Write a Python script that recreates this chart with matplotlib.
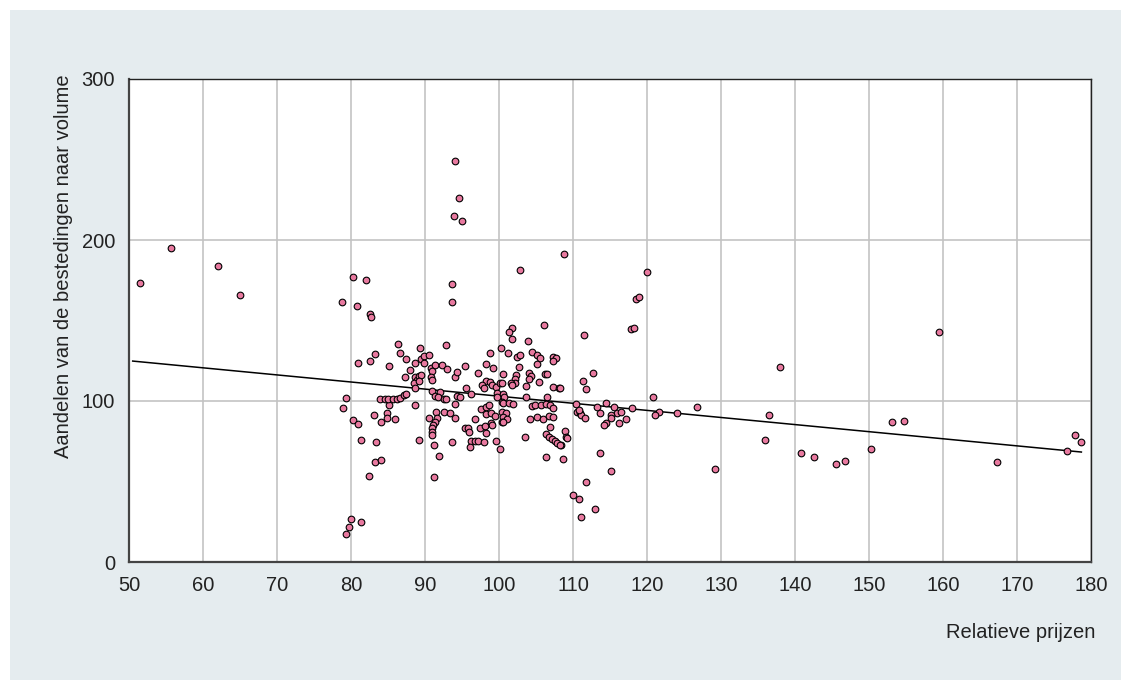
import matplotlib
matplotlib.use("Agg")
import matplotlib.pyplot as plt
from matplotlib.patches import Rectangle

plt.rcParams['font.family'] = ['Liberation Sans', 'DejaVu Sans']

# relative prices (x) and volume shares (y)
rel_prices = [
    51.5, 55.7, 62.0, 65.0,
    78.8, 80.8, 82.6, 82.7, 80.3, 82.0,
    80.0, 79.7, 79.3, 81.4,
    78.9, 80.3, 80.9, 81.4, 83.4, 83.1, 84.0, 84.9, 84.9, 85.9, 85.1, 83.2, 84.0, 82.4,
    79.3,
    83.2, 82.5, 80.9, 85.1, 86.4, 86.6, 87.4, 88.6,
    83.9, 84.6, 85.0, 85.7, 86.2, 86.6, 87.1, 87.4,
    88.6, 89.2, 90.5, 91.5, 92.5, 93.4, 94.0, 94.0, 91.6,
    91.4, 91.1, 91.0, 90.9, 90.9, 91.2, 91.9, 93.7, 91.2,
    93.7, 89.3, 92.9,
    89.5, 89.9, 90.5, 89.9, 88.0, 87.3, 88.6, 88.9, 89.2, 89.4, 88.5, 88.7, 89.2,
    90.8, 91.4, 92.3, 93.0, 91.0, 90.8, 91.0, 94.1, 94.3,
    90.9, 92.0, 91.3, 91.7, 92.5, 92.9, 94.3,
    94.1, 94.6, 93.9, 95.0, 93.6,
    106.1, 101.7, 101.4, 111.5, 101.7, 103.9, 100.3, 98.8, 101.2, 102.4, 102.8, 104.5,
    105.2, 105.5, 107.3, 107.7, 107.3, 105.2, 95.4, 98.3, 99.2, 102.7, 97.2, 100.6,
    102.3, 102.2, 102.1, 104.1, 104.3, 104.0, 106.2, 106.5, 105.4,
    98.2, 98.8, 99.1, 97.7, 98.0, 99.6, 100.1, 100.4, 101.6, 101.7, 95.5, 103.6,
    107.3, 108.1, 111.3, 111.8, 112.7,
    94.7, 96.2, 99.7, 100.6, 100.7, 99.7, 103.6, 106.5,
    97.5, 98.3, 98.7, 98.2, 98.9, 99.4, 96.7, 95.4, 95.8, 96.0, 97.4, 98.1, 98.3,
    98.9, 99.0, 96.2, 96.8, 97.1, 98.0, 96.1, 99.6, 100.2,
    100.4, 101.0, 100.5, 101.1, 100.4, 100.6, 100.4, 100.6, 101.3, 101.9,
    103.5, 104.2, 105.2, 105.9, 104.5, 104.9, 105.7, 106.4, 106.9, 107.3, 106.7, 107.3, 106.9,
    106.3, 106.8, 107.2, 107.5, 107.9, 108.4, 108.9, 109.0, 109.2, 106.4, 108.6,
    102.8, 108.8,
    110.4, 110.5, 110.9, 111.1, 111.6, 110.8, 113.3, 113.6,
    114.5, 115.5, 116.0, 115.1, 115.1, 114.5, 114.2, 113.7, 115.1, 111.8, 110.0, 110.8, 111.1, 113.0,
    116.5, 118.0, 117.2, 116.2, 108.3, 108.3,
    120.0, 118.5, 118.9, 117.9, 118.3,
    120.8, 121.6, 121.1, 124.0, 126.7, 129.2,
    136.0, 136.5, 138.0, 140.8, 142.6, 145.5, 146.8, 150.3, 153.1, 154.7, 159.5, 167.3,
    176.8, 177.9, 178.6,
]
volume_shares = [
    173.0, 195.2, 183.7, 166.0,
    161.4, 159.0, 154.0, 152.4, 176.8, 175.0,
    26.7, 21.7, 17.4, 24.8,
    95.6, 88.0, 85.6, 76.0, 74.5, 91.0, 87.0, 92.5, 89.5, 89.0, 97.7, 62.0, 63.4, 53.5,
    101.7,
    129.0, 124.8, 123.6, 122.0, 135.4, 130.0, 126.0, 123.6,
    101.2, 101.2, 101.0, 101.2, 101.5, 102.0, 103.5, 104.5,
    97.5, 76.0, 89.4, 93.0, 93.0, 92.5, 89.4, 98.0, 89.4,
    87.0, 85.0, 83.0, 81.0, 79.0, 72.9, 65.8, 74.5, 52.8,
    161.5, 133.0, 134.8,
    126.0, 128.0, 128.6, 123.4, 119.3, 114.9, 115.0, 113.0, 115.5, 116.0, 111.0, 107.9, 112.6,
    120.7, 122.2, 122.2, 120.0, 118.6, 114.7, 112.8, 115.0, 118.2,
    106.2, 105.8, 103.0, 102.7, 101.4, 101.4, 103.3,
    249.3, 226.3, 215.1, 211.8, 172.5,
    147.2, 145.3, 143.0, 140.8, 138.5, 137.5, 133.0, 129.6, 129.6, 127.1, 128.6, 130.2,
    128.4, 126.5, 127.1, 126.9, 124.8, 123.0, 121.7, 122.8, 120.7, 121.3, 117.2, 117.0,
    116.1, 113.5, 111.4, 117.2, 115.5, 113.5, 116.8, 116.6, 111.6,
    112.6, 111.6, 110.0, 110.0, 108.0, 108.5, 111.4, 111.0, 111.4, 110.0, 108.3, 109.3,
    108.9, 107.9, 112.6, 107.5, 117.6,
    102.7, 104.3, 104.8, 104.3, 102.7, 102.7, 102.3, 102.3,
    94.8, 96.5, 97.5, 91.9, 92.3, 90.7, 88.6, 83.4, 83.0, 80.9, 83.4, 84.5, 80.3,
    86.1, 85.0, 75.3, 75.3, 75.3, 74.7, 71.6, 75.3, 70.4,
    93.4, 92.3, 90.2, 88.6, 87.1, 87.1, 99.6, 99.0, 98.6, 98.1,
    77.8, 88.6, 89.9, 88.6, 96.9, 97.7, 97.5, 98.1, 97.7, 95.7, 90.9, 89.9, 84.0,
    79.5, 77.5, 76.2, 75.0, 74.1, 72.7, 81.4, 77.5, 76.8, 65.0, 64.0,
    181.4, 191.2,
    98.1, 93.4, 92.3, 91.1, 89.3, 94.4, 96.1, 92.7,
    98.9, 96.1, 92.4, 91.3, 89.3, 86.1, 84.9, 67.5, 56.7, 49.9, 41.6, 38.9, 28.0, 33.0,
    93.0, 95.5, 89.0, 86.3, 107.9, 72.7,
    180.1, 163.5, 164.6, 144.7, 145.1,
    102.7, 93.4, 91.5, 92.8, 96.3, 57.6,
    75.8, 91.1, 121.3, 67.7, 65.2, 60.9, 62.7, 70.0, 87.1, 87.6, 142.7, 62.3,
    68.8, 78.9, 74.7,
]

# fitted trend line end points
trend_x = [50.5, 178.7]
trend_y = [124.8, 68.3]

x_ticks = list(range(50, 181, 10))
y_ticks = [0, 100, 200, 300]

fig = plt.figure(figsize=(11.31, 6.9), dpi=100)
fig.patch.set_facecolor('white')
# light panel behind the chart
fig.patches.append(Rectangle((10 / 1131, 10 / 690), 1111 / 1131, 670 / 690,
                             transform=fig.transFigure, facecolor='#e5ecef',
                             edgecolor='none', zorder=-10))

ax = fig.add_axes([129 / 1131, 128 / 690, 962 / 1131, 483 / 690])
ax.set_facecolor('white')

ax.plot(trend_x, trend_y, color='black', linewidth=1.1, zorder=3)
ax.scatter(rel_prices, volume_shares, s=23, facecolor='#e8799f',
           edgecolor='black', linewidth=0.8, zorder=4)

ax.set_xlim(50, 180)
ax.set_ylim(0, 300)
ax.set_xticks(x_ticks)
ax.set_yticks(y_ticks)
ax.grid(True, color='#c3c3c3', linewidth=1.2)
ax.set_axisbelow(True)
ax.tick_params(length=0, labelsize=14.5, colors='#222222', pad=10)

for side in ['left', 'bottom']:
    ax.spines[side].set_linewidth(1.6)
    ax.spines[side].set_color('#444444')
for side in ['top', 'right']:
    ax.spines[side].set_linewidth(1.0)
    ax.spines[side].set_color('#222222')

ax.set_ylabel('Aandelen van de bestedingen naar volume', fontsize=14.5,
              color='#222222', loc='top')
ax.yaxis.set_label_coords(-56 / 962, 1.01)
fig.text(1095 / 1131, 1 - 633 / 690, 'Relatieve prijzen', fontsize=14.5,
         color='#222222', ha='right', va='center')

fig.savefig('out.png', dpi=100, facecolor=fig.get_facecolor())
